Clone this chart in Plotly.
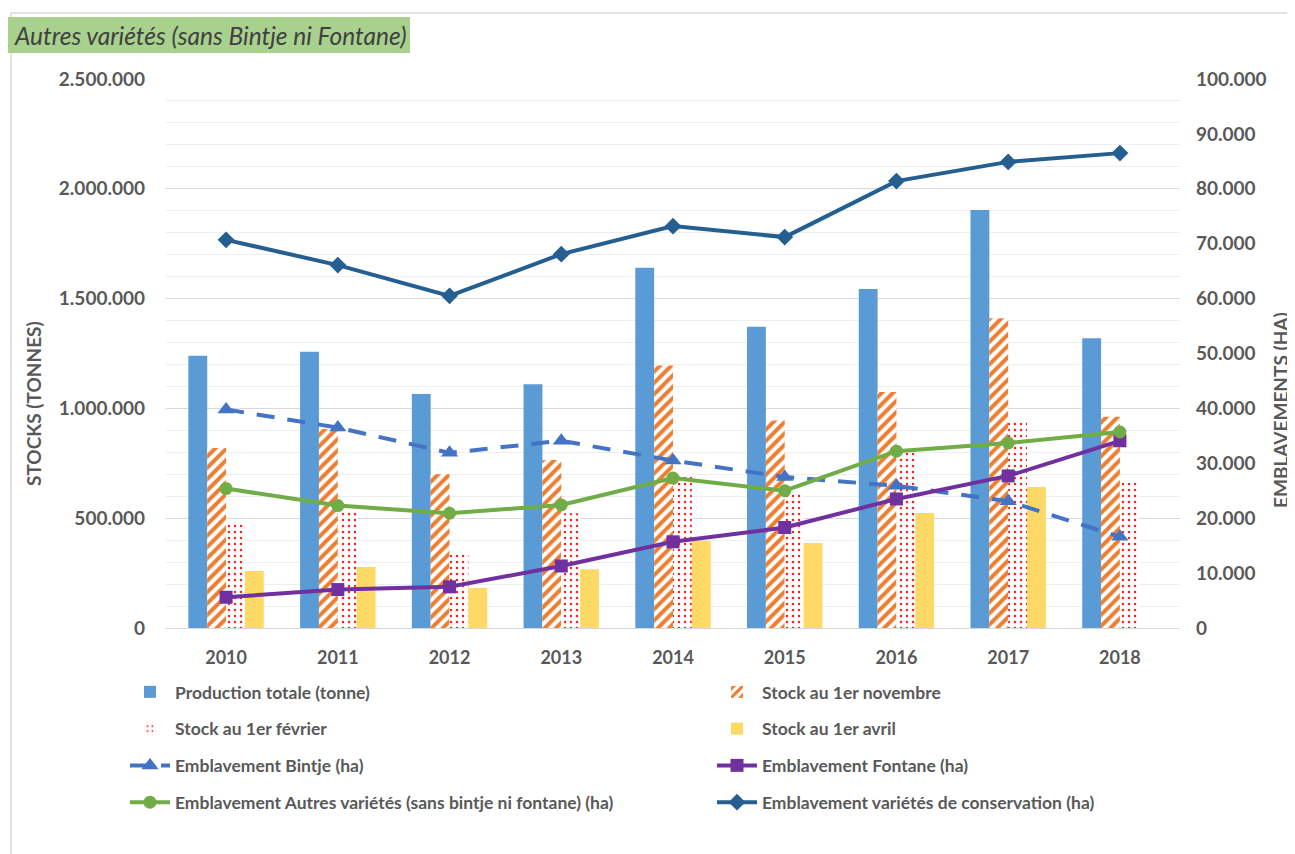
import plotly.graph_objects as go

years = ["2010", "2011", "2012", "2013", "2014", "2015", "2016", "2017", "2018"]
production = [1240000, 1258000, 1066000, 1110000, 1640000, 1372000, 1544000, 1903000, 1320000]
stock_nov = [820000, 906000, 700000, 765000, 1195000, 945000, 1075000, 1410000, 962000]
stock_feb = [485000, 535000, 340000, 522000, 700000, 620000, 797000, 938000, 663000]
stock_avr = [260000, 278000, 182000, 268000, 396000, 387000, 524000, 642000, None]
embl_bintje = [39800, 36500, 31900, 34100, 30500, 27500, 25900, 23100, 16600]
embl_fontane = [5600, 7000, 7500, 11300, 15700, 18300, 23500, 27700, 34100]
embl_autres = [25400, 22300, 20900, 22400, 27300, 25000, 32200, 33700, 35700]
embl_conserv = [70700, 66100, 60500, 68100, 73200, 71200, 81400, 84900, 86500]

W, H = 1295, 854
S = 8  # page offset of the figure
# plot area in screen pixels
L, R, T, B = 166, 1180, 79, 628
pw, ph = R - L, B - T

def px(x):
    return (x - L) / pw

def py(y):
    return (B - y) / ph

GREY = "#595959"
FONT = "Lato, 'Open Sans', sans-serif"

fig = go.Figure()

fig.add_trace(go.Bar(x=years, y=production, name="Production totale (tonne)",
                     marker=dict(color="#5b9bd5", line=dict(width=0)),
                     legend="legend", legendgroup="g1"))
fig.add_trace(go.Bar(x=years, y=stock_nov, name="Stock au 1er novembre",
                     marker=dict(color="white", line=dict(width=0),
                                 pattern=dict(shape="/", fgcolor="#ed7d31", bgcolor="white",
                                              size=8, solidity=0.5, fillmode="replace")),
                     legend="legend2", legendgroup="g2"))
fig.add_trace(go.Bar(x=years, y=stock_feb, name="Stock au 1er février",
                     marker=dict(color="white", line=dict(width=0),
                                 pattern=dict(shape=".", fgcolor="#ff2020", bgcolor="white",
                                              size=6, solidity=0.14, fillmode="replace")),
                     legend="legend", legendgroup="g3"))
fig.add_trace(go.Bar(x=years, y=stock_avr, name="Stock au 1er avril",
                     marker=dict(color="#ffd966", line=dict(width=0)),
                     legend="legend2", legendgroup="g4"))

fig.add_trace(go.Scatter(x=years, y=embl_bintje, name="Emblavement Bintje (ha)", yaxis="y2",
                         mode="lines+markers",
                         line=dict(color="#4472c4", width=4, dash="18px,13px"),
                         marker=dict(symbol="triangle-up", size=15, color="#4472c4"),
                         legend="legend", legendgroup="g5"))
fig.add_trace(go.Scatter(x=years, y=embl_fontane, name="Emblavement Fontane (ha)", yaxis="y2",
                         mode="lines+markers",
                         line=dict(color="#7030a0", width=4),
                         marker=dict(symbol="square", size=13, color="#7030a0"),
                         legend="legend2", legendgroup="g6"))
fig.add_trace(go.Scatter(x=years, y=embl_autres,
                         name="Emblavement Autres variétés (sans bintje ni fontane) (ha)", yaxis="y2",
                         mode="lines+markers",
                         line=dict(color="#70ad47", width=4),
                         marker=dict(symbol="circle", size=13, color="#70ad47"),
                         legend="legend", legendgroup="g7"))
fig.add_trace(go.Scatter(x=years, y=embl_conserv, name="Emblavement variétés de conservation (ha)",
                         yaxis="y2", mode="lines+markers",
                         line=dict(color="#255e91", width=4),
                         marker=dict(symbol="diamond", size=13, color="#255e91"),
                         legend="legend2", legendgroup="g8"))

legend_common = dict(orientation="v", xref="container", yref="container",
                     yanchor="top", xanchor="left", traceorder="grouped",
                     tracegroupgap=11, itemwidth=40, bgcolor="rgba(0,0,0,0)",
                     font=dict(family=FONT, size=17.5, color=GREY, weight="bold"))

fig.update_layout(
    width=W, height=H, autosize=False,
    margin=dict(l=L - S, r=W - (R - S), t=T - S, b=H - (B - S), pad=0, autoexpand=False),
    paper_bgcolor="white", plot_bgcolor="white",
    separators=",.",
    barmode="group", bargap=0.325, bargroupgap=0,
    font=dict(family=FONT, color=GREY),
    xaxis=dict(type="category", showgrid=False, showline=True, linecolor="#d9d9d9",
               linewidth=1, ticks="", zeroline=False, automargin=False,
               ticklabelstandoff=13,
               tickfont=dict(family=FONT, size=18, color=GREY, weight="bold")),
    yaxis=dict(range=[0, 2500000], dtick=500000, tickformat=",d", showgrid=True,
               gridcolor="#d9d9d9", gridwidth=1, zeroline=False, ticks="",
               ticklabelstandoff=20, automargin=False,
               minor=dict(dtick=100000, showgrid=True, gridcolor="#eeeeee", gridwidth=1),
               tickfont=dict(family=FONT, size=19, color=GREY, weight="bold")),
    yaxis2=dict(range=[0, 100000], dtick=10000, tickformat=",d", overlaying="y", side="right",
                showgrid=False, zeroline=False, ticks="", ticklabelstandoff=15, automargin=False,
                tickfont=dict(family=FONT, size=19, color=GREY, weight="bold")),
    legend=dict(x=117 / W, y=1 - 666 / H, **legend_common),
    legend2=dict(x=704 / W, y=1 - 666 / H, **legend_common),
    showlegend=True,
)

# chart border lines
fig.add_shape(type="line", xref="paper", yref="paper", x0=px(11), x1=px(W + 20), y0=py(13), y1=py(13),
              line=dict(color="#d9d9d9", width=1.5), layer="below")
fig.add_shape(type="line", xref="paper", yref="paper", x0=px(11), x1=px(11), y0=py(13), y1=py(H + 20),
              line=dict(color="#d9d9d9", width=1.5), layer="below")
# title box
fig.add_shape(type="rect", xref="paper", yref="paper", x0=px(8), x1=px(410), y0=py(53), y1=py(17),
              fillcolor="#a9d18e", line=dict(width=0), layer="below")
fig.add_annotation(xref="paper", yref="paper", x=px(12), y=py(35), xanchor="left", yanchor="middle",
                   text="<i>Autres variétés (sans Bintje ni Fontane)</i>", showarrow=False,
                   font=dict(family=FONT, size=24.5, color="#404040"))
fig.add_annotation(xref="paper", yref="paper", x=px(34), y=py(404), xanchor="center", yanchor="middle",
                   text="<b>STOCKS (TONNES)</b>", textangle=-90, showarrow=False,
                   font=dict(family=FONT, size=19, color=GREY))
fig.add_annotation(xref="paper", yref="paper", x=px(1281), y=py(410), xanchor="center", yanchor="middle",
                   text="<b>EMBLAVEMENTS (HA)</b>", textangle=-90, showarrow=False,
                   font=dict(family=FONT, size=19, color=GREY))

fig.write_html("out.html")
